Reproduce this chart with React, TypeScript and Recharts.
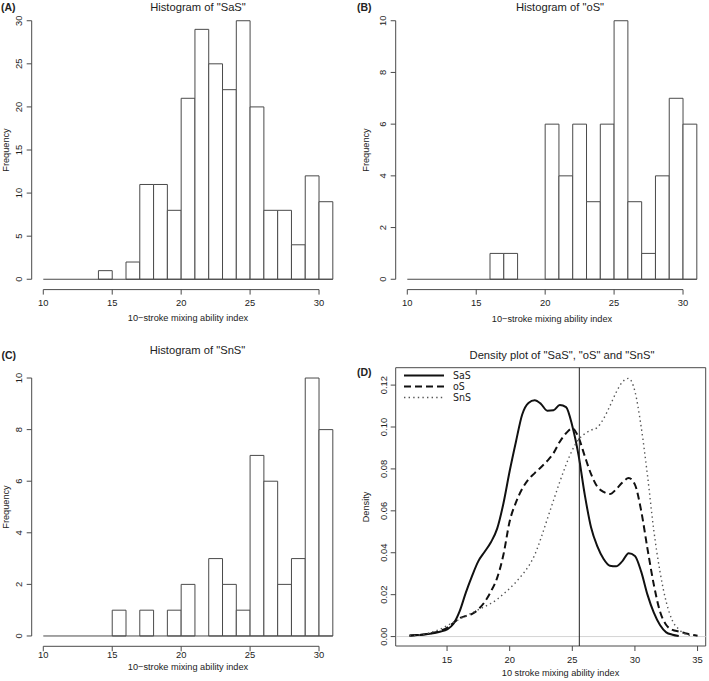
import React from "react";
import {
	ComposedChart,
	XAxis,
	YAxis,
	Line,
	ReferenceArea,
	ReferenceLine,
	Legend,
} from "recharts";

const FONT = "'Liberation Sans', Arial, Helvetica, sans-serif";
const NARROW = "'Liberation Sans Narrow', 'DejaVu Sans Condensed', 'Liberation Sans', sans-serif";
const INK = "#4a4a4a";
const TEXT = "#222";

const binEdges = [10, 11, 12, 13, 14, 15, 16, 17, 18, 19, 20, 21, 22, 23, 24, 25, 26, 27, 28, 29, 30, 31];
const sasCounts = [0, 0, 0, 0, 1, 0, 2, 11, 11, 8, 21, 29, 25, 22, 30, 20, 8, 8, 4, 12, 9];
const osCounts = [0, 0, 0, 0, 0, 0, 1, 1, 0, 0, 6, 4, 6, 3, 6, 10, 3, 1, 4, 7, 6];
const snsCounts = [0, 0, 0, 0, 0, 1, 0, 1, 0, 1, 2, 0, 3, 2, 1, 7, 6, 2, 3, 10, 8];

const histXTicks = [10, 15, 20, 25, 30];
const sasYTicks = [0, 5, 10, 15, 20, 25, 30];
const smallYTicks = [0, 2, 4, 6, 8, 10];
const HIST_X_DOMAIN: [number, number] = [9.16, 31.84];

// density curves (panel D), sampled every 0.5
const densX = [
	12, 12.5, 13, 13.5, 14, 14.5, 15, 15.5, 16, 16.5, 17, 17.5, 18, 18.5, 19, 19.5, 20, 20.5, 21, 21.5, 22, 22.5, 23, 23.5,
	24, 24.5, 25, 25.5, 26, 26.5, 27, 27.5, 28, 28.5, 29, 29.5, 30, 30.5, 31, 31.5, 32, 32.5, 33, 33.5, 34, 34.5, 35,
];
const sasDens = [
	0.0005, 0.0007, 0.0009, 0.0012, 0.0017, 0.0024, 0.0034, 0.006, 0.012, 0.021, 0.029, 0.036, 0.0405, 0.045, 0.0515, 0.0635,
	0.079, 0.093, 0.106, 0.1115, 0.1128, 0.111, 0.1078, 0.108, 0.1105, 0.1095, 0.1005, 0.0865, 0.0675, 0.052, 0.043, 0.037,
	0.0338, 0.0335, 0.036, 0.0398, 0.0385, 0.031, 0.02, 0.0115, 0.0055, 0.002, 0.0009, 0.0003, null, null, null,
];
const osDens = [
	0.0004, 0.0006, 0.0009, 0.0013, 0.0019, 0.0028, 0.0042, 0.0065, 0.0088, 0.0098, 0.0108, 0.013, 0.0165, 0.0215, 0.028,
	0.039, 0.055, 0.064, 0.0705, 0.075, 0.078, 0.0808, 0.0838, 0.0875, 0.093, 0.097, 0.0993, 0.095, 0.086, 0.0775, 0.0715,
	0.069, 0.068, 0.0703, 0.0735, 0.0757, 0.0725, 0.06, 0.042, 0.025, 0.012, 0.0055, 0.0032, 0.0024, 0.0016, 0.0009, 0.0004,
];
const snsDens = [
	0.0003, 0.0006, 0.001, 0.0016, 0.0025, 0.0037, 0.0052, 0.0068, 0.0083, 0.0098, 0.0113, 0.0128, 0.0143, 0.0158, 0.0178,
	0.0203, 0.023, 0.026, 0.0295, 0.0335, 0.039, 0.047, 0.056, 0.065, 0.0738, 0.082, 0.089, 0.094, 0.0968, 0.0985, 0.0998,
	0.104, 0.11, 0.1165, 0.1215, 0.1232, 0.117, 0.1, 0.077, 0.051, 0.031, 0.0165, 0.0075, 0.0035, 0.0013, 0.0005, null,
];
const densXTicks = [15, 20, 25, 30, 35];
const densYTicks = [0, 0.02, 0.04, 0.06, 0.08, 0.1, 0.12];
const DENS_X_DOMAIN: [number, number] = [10.9, 35.65];
const DENS_Y_DOMAIN: [number, number] = [-0.0045, 0.1283];
const cutoff = 25.56;

const series = [
	{ key: "SaS", values: sasDens, color: "#111", width: 2, dash: undefined as string | undefined },
	{ key: "oS", values: osDens, color: "#111", width: 2, dash: "7 4" },
	{ key: "SnS", values: snsDens, color: "#555", width: 1.4, dash: "1.4 3.2" },
];

const densRows = densX.map((x, i) => {
	const row: Record<string, number | null> = { x };
	series.forEach((s) => (row[s.key] = s.values[i]));
	return row;
});

const XTick = (props: any) => (
	<text x={props.x} y={props.y} dy="0.35em" textAnchor="middle" fontSize={9.4} fill={TEXT} fontFamily={FONT}>
		{props.payload.value}
	</text>
);

const YTick = (props: any) => (
	<text
		x={0}
		y={0}
		transform={`translate(${props.x},${props.y}) rotate(-90)`}
		dy="0.35em"
		textAnchor="middle"
		fontSize={9.4}
		fill={TEXT}
		fontFamily={FONT}
	>
		{props.fmt ? props.fmt(props.payload.value) : props.payload.value}
	</text>
);

type Box = { left: number; top: number; width: number; height: number };
type Margin = { top: number; right: number; bottom: number; left: number };

function Histogram({
	box,
	margin,
	counts,
	yTicks,
	yDomain,
	xGap,
}: {
	box: Box;
	margin: Margin;
	counts: number[];
	yTicks: number[];
	yDomain: [number, number];
	xGap: number;
}) {
	const rows = counts.map((count, i) => ({ lo: binEdges[i], hi: binEdges[i + 1], count }));
	const lastEdge = binEdges[binEdges.length - 1];
	return (
		<div style={{ position: "absolute", left: box.left, top: box.top }}>
			<ComposedChart width={box.width} height={box.height} data={rows} margin={margin}>
				<XAxis
					type="number"
					dataKey="lo"
					domain={HIST_X_DOMAIN}
					ticks={histXTicks}
					interval={0}
					allowDataOverflow
					axisLine={false}
					tickLine={{ stroke: INK }}
					tickSize={5}
					tickMargin={xGap}
					height={30}
					tick={(p: any) => <XTick {...p} />}
				/>
				<YAxis
					type="number"
					domain={yDomain}
					ticks={yTicks}
					interval={0}
					allowDataOverflow
					axisLine={false}
					tickLine={{ stroke: INK }}
					tickSize={5}
					tickMargin={8.4}
					width={30}
					tick={(p: any) => <YTick {...p} />}
				/>
				<ReferenceLine
					segment={[
						{ x: binEdges[0], y: 0 },
						{ x: lastEdge, y: 0 },
					]}
					stroke={INK}
					ifOverflow="visible"
				/>
				{rows
					.filter((r) => r.count > 0)
					.map((r) => (
						<ReferenceArea
							key={r.lo}
							x1={r.lo}
							x2={r.hi}
							y1={0}
							y2={r.count}
							fill="#fff"
							fillOpacity={1}
							stroke={INK}
							strokeWidth={1}
							ifOverflow="visible"
						/>
					))}
				{/* R style axes: lines only span first to last tick */}
				<ReferenceLine
					segment={[
						{ x: histXTicks[0], y: yDomain[0] },
						{ x: histXTicks[histXTicks.length - 1], y: yDomain[0] },
					]}
					stroke={INK}
					ifOverflow="visible"
				/>
				<ReferenceLine
					segment={[
						{ x: HIST_X_DOMAIN[0], y: yTicks[0] },
						{ x: HIST_X_DOMAIN[0], y: yTicks[yTicks.length - 1] },
					]}
					stroke={INK}
					ifOverflow="visible"
				/>
			</ComposedChart>
		</div>
	);
}

const DensityKey = () => (
	<svg width={90} height={36}>
		{series.map((s, i) => (
			<g key={s.key}>
				<line
					x1={2}
					x2={42}
					y1={6.5 + i * 11}
					y2={6.5 + i * 11}
					stroke={s.color}
					strokeWidth={s.width}
					strokeDasharray={s.dash}
				/>
				<text x={51} y={6.5 + i * 11} dy="0.35em" fontSize={10.5} fill={TEXT} fontFamily={NARROW}>
					{s.key}
				</text>
			</g>
		))}
	</svg>
);

function DensityPlot() {
	return (
		<div style={{ position: "absolute", left: 354, top: 340 }}>
			<ComposedChart width={355} height={341} data={densRows} margin={{ top: 27.7, right: 3.3, bottom: 5, left: 11.7 }}>
				<XAxis
					type="number"
					dataKey="x"
					domain={DENS_X_DOMAIN}
					ticks={densXTicks}
					interval={0}
					allowDataOverflow
					axisLine={false}
					tickLine={{ stroke: INK }}
					tickSize={5}
					tickMargin={8.5}
					height={30}
					tick={(p: any) => <XTick {...p} />}
				/>
				<YAxis
					type="number"
					domain={DENS_Y_DOMAIN}
					ticks={densYTicks}
					interval={0}
					allowDataOverflow
					axisLine={false}
					tickLine={{ stroke: INK }}
					tickSize={5}
					tickMargin={6.7}
					width={30}
					tick={(p: any) => <YTick {...p} fmt={(v: number) => v.toFixed(2)} />}
				/>
				<ReferenceLine y={0} stroke="#d4d4d4" strokeWidth={1} />
				{series.map((s) => (
					<Line
						key={s.key}
						type="monotone"
						dataKey={s.key}
						name={s.key}
						stroke={s.color}
						strokeWidth={s.width}
						strokeDasharray={s.dash}
						dot={false}
						activeDot={false}
						connectNulls={false}
						isAnimationActive={false}
					/>
				))}
				<ReferenceLine x={cutoff} stroke="#222" strokeWidth={1} />
				<ReferenceArea
					x1={DENS_X_DOMAIN[0]}
					x2={DENS_X_DOMAIN[1]}
					y1={DENS_Y_DOMAIN[0]}
					y2={DENS_Y_DOMAIN[1]}
					fill="none"
					stroke={INK}
					strokeWidth={1}
					ifOverflow="visible"
				/>
				<Legend
					layout="vertical"
					align="center"
					verticalAlign="middle"
					wrapperStyle={{ left: 48, top: 29, width: 90, height: 36 }}
					content={() => <DensityKey />}
				/>
			</ComposedChart>
		</div>
	);
}

const Txt = ({
	x,
	y,
	children,
	size = 9.2,
	bold = false,
	rotate = false,
	left = false,
}: {
	x: number;
	y: number;
	children: React.ReactNode;
	size?: number;
	bold?: boolean;
	rotate?: boolean;
	left?: boolean;
}) => (
	<div
		style={{
			position: "absolute",
			left: x,
			top: y,
			transform: `translate(${left ? "0" : "-50%"},-50%)${rotate ? " rotate(-90deg)" : ""}`,
			fontSize: size,
			fontWeight: bold ? 700 : 400,
			fontFamily: FONT,
			color: TEXT,
			whiteSpace: "nowrap",
			lineHeight: 1.1,
		}}
	>
		{children}
	</div>
);

export default function App() {
	return (
		<div
			style={{
				position: "absolute",
				left: 0,
				top: 0,
				width: 709,
				height: 681,
				background: "#fff",
				overflow: "hidden",
			}}
		>
			<Histogram
				box={{ left: 0, top: 0, width: 354, height: 340 }}
				margin={{ top: 10.4, right: 9.6, bottom: 20.4, left: 1.7 }}
				counts={sasCounts}
				yTicks={sasYTicks}
				yDomain={[-1.2, 31.2]}
				xGap={7.9}
			/>
			<Histogram
				box={{ left: 354, top: 0, width: 355, height: 340 }}
				margin={{ top: 10.4, right: 0.6, bottom: 20.4, left: 11.7 }}
				counts={osCounts}
				yTicks={smallYTicks}
				yDomain={[-0.4, 10.4]}
				xGap={8.4}
			/>
			<Histogram
				box={{ left: 0, top: 340, width: 354, height: 341 }}
				margin={{ top: 27.7, right: 9.6, bottom: 4.7, left: 1.7 }}
				counts={snsCounts}
				yTicks={smallYTicks}
				yDomain={[-0.4, 10.4]}
				xGap={3.7}
			/>
			<DensityPlot />

			<Txt x={1} y={7.5} size={10.5} bold left>(A)</Txt>
			<Txt x={198} y={7} size={11.2}>Histogram of "SaS"</Txt>
			<Txt x={188} y={318}>10−stroke mixing ability index</Txt>
			<Txt x={6} y={150} rotate>Frequency</Txt>

			<Txt x={357} y={7.5} size={10.5} bold left>(B)</Txt>
			<Txt x={560} y={7} size={11.2}>Histogram of "oS"</Txt>
			<Txt x={552} y={319}>10−stroke mixing ability index</Txt>
			<Txt x={366} y={150} rotate>Frequency</Txt>

			<Txt x={1.5} y={355.5} size={10.5} bold left>(C)</Txt>
			<Txt x={197.5} y={350} size={11.2}>Histogram of "SnS"</Txt>
			<Txt x={188} y={667}>10−stroke mixing ability index</Txt>
			<Txt x={6} y={507} rotate>Frequency</Txt>

			<Txt x={357} y={373} size={10.5} bold left>(D)</Txt>
			<Txt x={562} y={355} size={11.2}>Density plot of "SaS", "oS" and "SnS"</Txt>
			<Txt x={560.5} y={673}>10 stroke mixing ability index</Txt>
			<Txt x={366} y={507} rotate>Density</Txt>
		</div>
	);
}
